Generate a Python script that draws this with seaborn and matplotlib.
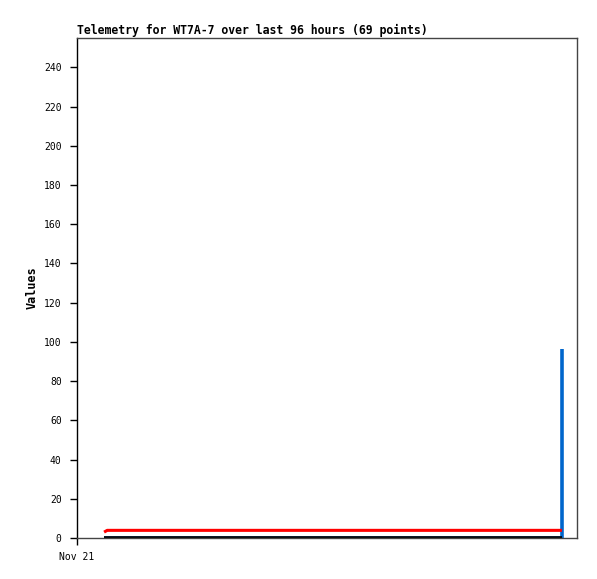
import pandas as pd
import matplotlib
matplotlib.use("Agg")
import matplotlib.pyplot as plt
import seaborn as sns

# hours since the left edge of the 96 hour window (Nov 21)
hours = [5.2, 5.8, 7.1, 8.4, 9.7, 11.0, 12.3, 13.6, 14.9, 16.2, 17.5, 18.8,
         20.1, 21.4, 22.7, 24.0, 25.3, 26.6, 27.9, 29.2, 30.5, 31.8, 33.1,
         34.4, 35.7, 37.0, 38.3, 39.6, 40.9, 42.2, 43.5, 44.8, 46.1, 47.4,
         48.7, 50.0, 51.3, 52.6, 53.9, 55.2, 56.5, 57.8, 59.1, 60.4, 61.7,
         63.0, 64.3, 65.6, 66.9, 68.2, 69.5, 70.8, 72.1, 73.4, 74.7, 76.0,
         77.3, 78.6, 79.9, 81.2, 82.5, 83.8, 85.1, 86.4, 87.7, 89.0, 90.3,
         91.6, 93.1]
red_vals = [3.0] + [3.9] * 68
black_vals = [0.0] * 69
blue_vals = [0.0] * 68 + [96.5]

y_ticks = list(range(0, 241, 20))
x_ticks = [0]
x_labels = ["Nov 21"]

df = pd.DataFrame({"hours": hours, "red": red_vals,
                   "black": black_vals, "blue": blue_vals})

sns.set_style("white")
plt.rcParams["font.family"] = ["DejaVu Sans Mono"]
plt.rcParams["text.color"] = "black"
plt.rcParams["axes.labelcolor"] = "black"
plt.rcParams["xtick.color"] = "black"
plt.rcParams["ytick.color"] = "black"

fig = plt.figure(figsize=(5.97, 5.79), dpi=100)
ax = fig.add_axes([77 / 597, 1 - 538 / 579, 500 / 597, 500 / 579])

sns.lineplot(data=df, x="hours", y="blue", color="#0066cc", linewidth=2.6,
             drawstyle="steps-post", solid_capstyle="butt", ax=ax)
sns.lineplot(data=df, x="hours", y="red", color="#ff0000", linewidth=2.2,
             solid_capstyle="butt", ax=ax)
sns.lineplot(data=df, x="hours", y="black", color="black", linewidth=2.6,
             solid_capstyle="butt", ax=ax)

ax.set_xlim(0, 96)
ax.set_ylim(0, 255)
ax.set_yticks(y_ticks)
ax.set_xticks(x_ticks)
ax.set_xticklabels(x_labels)
ax.tick_params(axis="both", direction="out", length=5, width=1, color="black",
               labelsize=7)
ax.tick_params(axis="y", left=True, pad=6)
ax.tick_params(axis="x", bottom=True, pad=5)

for side in ["top", "right", "bottom"]:
    ax.spines[side].set_color("#444444")
    ax.spines[side].set_linewidth(1)
ax.spines["left"].set_color("black")
ax.spines["left"].set_linewidth(1)

ax.set_xlabel("")
ax.set_ylabel("Values", fontsize=8.5, fontweight="bold", labelpad=4)
ax.set_title("Telemetry for WT7A-7 over last 96 hours (69 points)",
             loc="left", fontsize=8.3, fontweight="bold", pad=3)

fig.savefig("out.png", dpi=100)
